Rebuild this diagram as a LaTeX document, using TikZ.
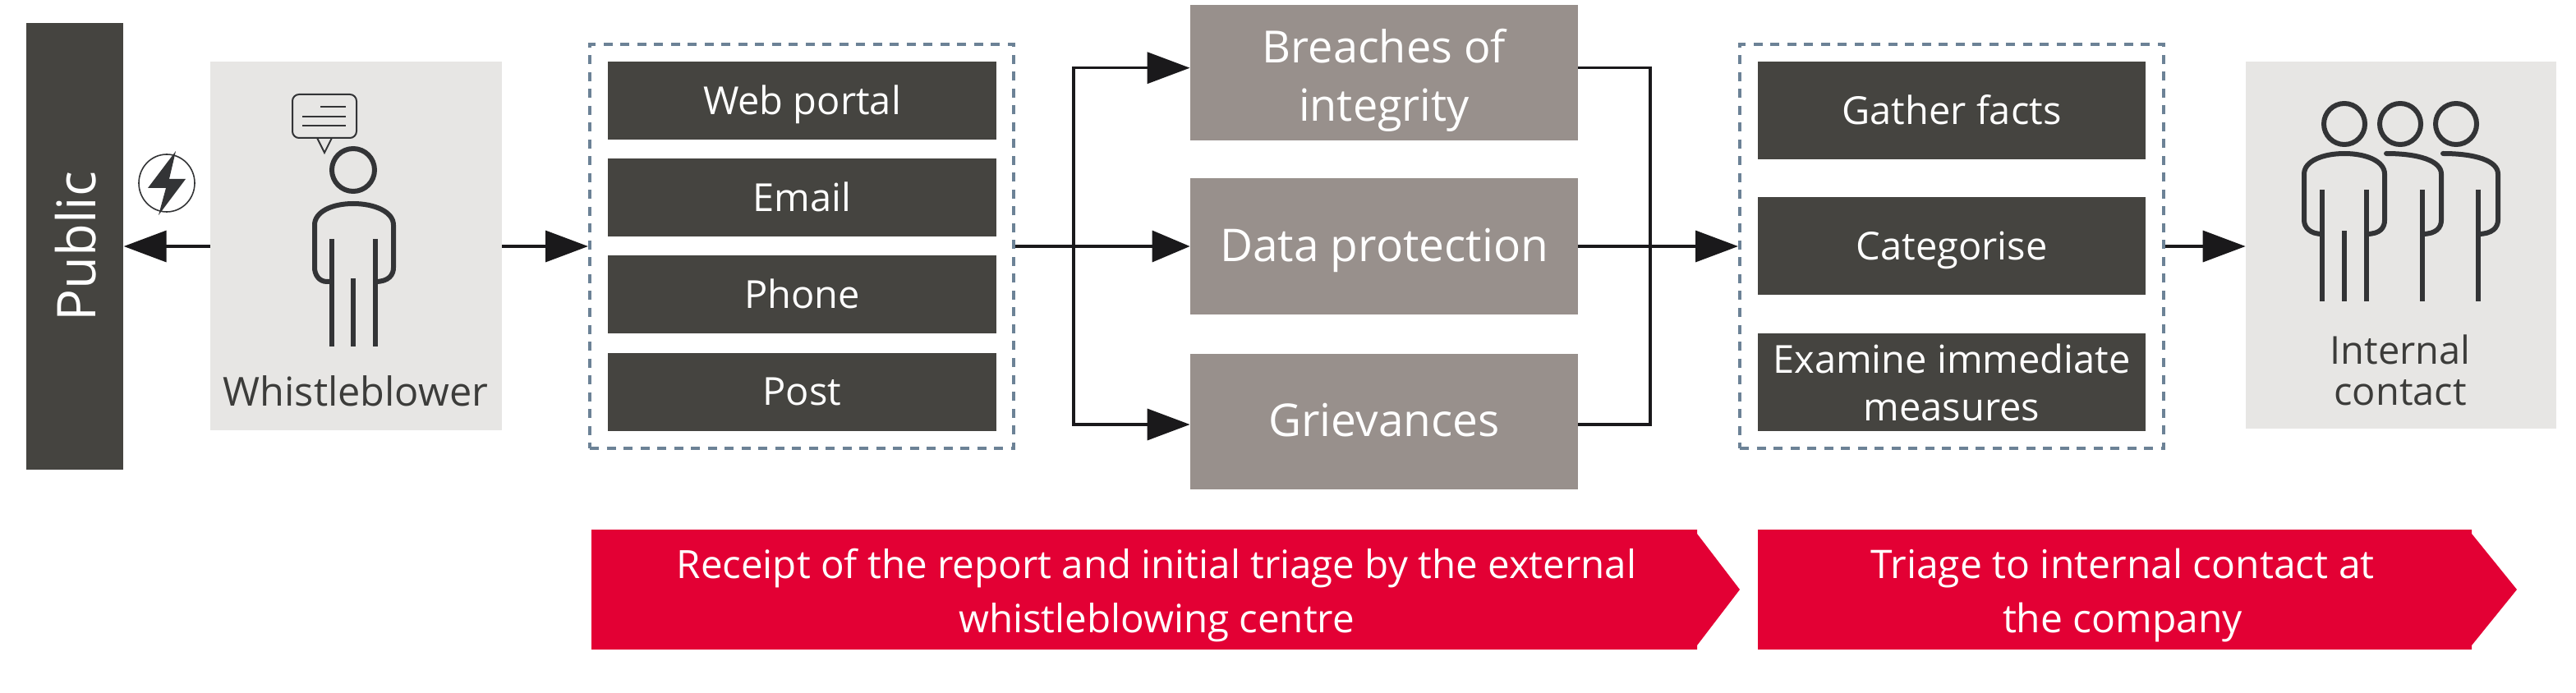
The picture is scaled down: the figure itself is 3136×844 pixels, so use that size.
\documentclass[tikz,border=0pt]{standalone}
\usepackage{fontspec}
\setmainfont{Open Sans}
\usetikzlibrary{arrows.meta,calc}
\definecolor{dark}{HTML}{454440}
\definecolor{taupe}{HTML}{98908C}
\definecolor{pale}{HTML}{E7E6E4}
\definecolor{redc}{HTML}{E30034}
\definecolor{dash}{HTML}{6C8296}
\definecolor{ink}{HTML}{1A191B}
\definecolor{icon}{HTML}{333436}
\definecolor{label}{HTML}{3C3C3A}
\tikzset{
 x=0.5pt,y=-0.5pt,
 darkbox/.style={fill=dark,text=white,inner sep=0pt,align=center,font=\fontsize{23.5}{29}\selectfont},
 oneline/.style={text height=16.8pt,text depth=0pt},
 midbox/.style={fill=taupe,text=white,inner sep=0pt,align=center,font=\fontsize{27.5}{36}\selectfont},
 midone/.style={text height=19.6pt,text depth=2pt},
 palebox/.style={fill=pale,inner sep=0pt},
 dashbox/.style={draw=dash,line width=2pt,dash pattern=on 5.5pt off 4.75pt,inner sep=0pt},
 conn/.style={draw=ink,line width=1.8pt},
 arr/.style={conn,-{Triangle[length=26pt,width=19pt,fill=ink]}},
 iconline/.style={draw=icon,line width=3pt},
 ribbon/.style={fill=redc},
 ribbontext/.style={text=white,align=center,font=\fontsize{24}{33}\selectfont},
 labeltext/.style={text=label,align=center,font=\fontsize{23.5}{25}\selectfont},
}
\begin{document}
\begin{tikzpicture}
\useasboundingbox (0,0) rectangle (3136,844);
% left
\node[darkbox,minimum width=118.5*0.5pt,minimum height=544*0.5pt] (public) at (91,300) {};
\node[text=white,rotate=90,inner sep=0pt,font=\fontsize{32.5}{34}\selectfont] (publ) at (92,300) {Public};
\node[palebox,minimum width=355*0.5pt,minimum height=449*0.5pt] (wb) at (433.5,299.5) {};
\node[labeltext,font=\fontsize{24.3}{25}\selectfont] (wbl) at (433,476) {Whistleblower};
% dashed groups
\node[dashbox,minimum width=516*0.5pt,minimum height=492*0.5pt] (grpa) at (976,300) {};
\node[dashbox,minimum width=516*0.5pt,minimum height=492*0.5pt] (grpb) at (2376,300) {};
% channels
\foreach \nm/\yy/\tt in {web/122.5/Web portal,email/240.5/Email,phone/358.5/Phone,post/477/Post}
  \node[darkbox,oneline,minimum width=473*0.5pt,minimum height=95*0.5pt] (\nm) at (976.5,\yy) {\tt};
% categories
\node[midbox,minimum width=472*0.5pt,minimum height=165*0.5pt] (bre) at (1685,88.5) {};
\node[text=white,align=center,font=\fontsize{27}{35.5}\selectfont] (brel) at (1685,98) {Breaches of\\integrity};
\node[midbox,midone,minimum width=472*0.5pt,minimum height=166*0.5pt] (dat) at (1685,300.5) {Data protection};
\node[midbox,midone,minimum width=472*0.5pt,minimum height=165*0.5pt] (gri) at (1685,513.5) {Grievances};
% steps
\node[darkbox,oneline,minimum width=472*0.5pt,minimum height=119*0.5pt] (fac) at (2376,135) {Gather facts};
\node[darkbox,oneline,minimum width=472*0.5pt,minimum height=119*0.5pt] (cat) at (2376,300) {Categorise};
\node[darkbox,minimum width=472*0.5pt,minimum height=119*0.5pt] (exa) at (2376,465.5) {Examine immediate\\measures};
% internal
\node[palebox,minimum width=378*0.5pt,minimum height=447*0.5pt] (int) at (2923,298.5) {};
\node[labeltext] (intl) at (2922,451) {Internal\\contact};
% connectors
\coordinate (ljoin) at (1307,300);
\coordinate (rjoin) at (2009,300);
\coordinate (brew) at ([yshift=2.9pt]bre.west);
\coordinate (bree) at ([yshift=2.9pt]bre.east);
\coordinate (griw) at ([yshift=-1.75pt]gri.west);
\coordinate (grie) at ([yshift=-1.75pt]gri.east);
\draw[arr] (wb.west |- public.east) -- (public.east);
\draw[arr] (wb.east |- grpa.west) -- (grpa.west);
\draw[conn,-{Triangle[length=23pt,width=19pt,fill=ink]}] (grpa.east) -- (grpa.east -| dat.west);
\draw[arr] (ljoin) |- (brew);
\draw[arr] (ljoin) |- (griw);
\draw[conn] (bree) -| (rjoin);
\draw[conn] (grie) -| (rjoin);
\draw[arr] (dat.east |- grpb.west) -- (grpb.west);
\draw[arr] (grpb.east) -- (grpb.east -| int.west);
% ribbons
\fill[ribbon] (720,645) -- (2066,645) -- (2066,650) -- (2118,718) -- (2066,786) -- (2066,791) -- (720,791) -- cycle;
\fill[ribbon] (2140,645) -- (3009,645) -- (3009,650) -- (3064,718) -- (3009,786) -- (3009,791) -- (2140,791) -- cycle;
\node[ribbontext,font=\fontsize{23.75}{33}\selectfont] (ra) at (1408,725) {Receipt of the report and initial triage by the external\\whistleblowing centre};
\node[ribbontext] (rb) at (2584,725) {Triage to internal contact at\\the company};
% person: whistleblower
\begin{scope}[iconline]
\draw (430,207) ellipse (26 and 26);
\draw (404,343) -- (398,343) .. controls (388,343) and (383,334) .. (383,326) -- (383,274) .. controls (383,258) and (404,248) .. (430,248) .. controls (456,248) and (479,258) .. (479,274) -- (479,326) .. controls (479,334) and (474,343) .. (457,343);
\draw (404,291) -- (404,422);
\draw (457,291) -- (457,422);
\draw (430,339) -- (430,422);
\end{scope}
\begin{scope}[draw=icon,line width=1pt]
\draw[rounded corners=4pt] (356,115) rectangle (434,168);
\draw (386,168) -- (395,186) -- (404,168);
\draw (390,130) -- (421,130);
\draw[line width=1.3pt] (368,142) -- (421,142);
\draw (368,153) -- (421,153);
\end{scope}
% bolt
\draw[icon,line width=0.8pt] (203,223) ellipse (34 and 35);
\fill[icon] (214,184) -- (180,229) -- (202,229) -- (193,262) -- (226,218) -- (206,218) -- cycle;
% three people
\begin{scope}[iconline]
\draw (2854,151) circle (25);
\draw (2922,151) circle (25);
\draw (2990,151) circle (25);
\draw (2827,285) .. controls (2812,285) and (2805,277) .. (2805,268) -- (2805,212) .. controls (2805,196) and (2828,187) .. (2854,187) .. controls (2880,187) and (2903,196) .. (2903,212) -- (2903,268) .. controls (2903,277) and (2898,285) .. (2881,285);
\draw[line cap=round] (2905,187) .. controls (2945,187) and (2972,196) .. (2972,212) -- (2972,268) .. controls (2972,277) and (2966,285) .. (2949,285);
\draw[line cap=round] (2974,187) .. controls (3014,187) and (3041,196) .. (3041,212) -- (3041,268) .. controls (3041,277) and (3034,285) .. (3017,285);
\foreach \xx in {2827,2881,2949,3017} \draw (\xx,231) -- (\xx,367);
\draw (2854,281) -- (2854,367);
\end{scope}
\end{tikzpicture}
\end{document}
